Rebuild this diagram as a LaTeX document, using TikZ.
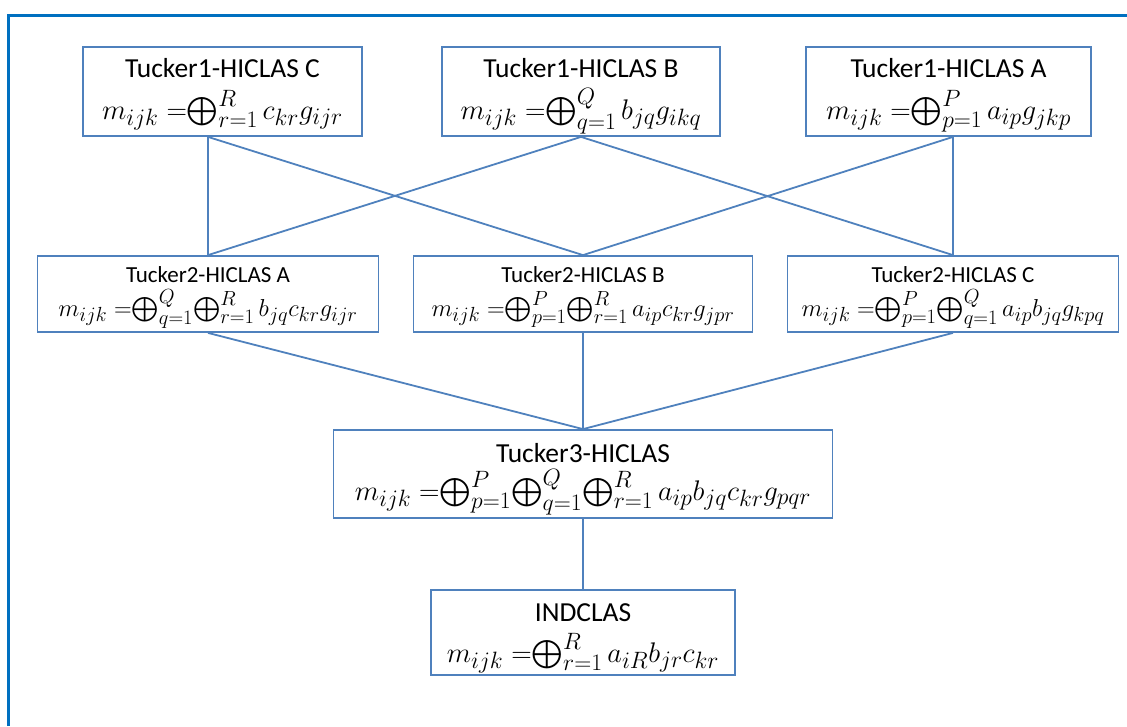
\documentclass[tikz,border=0pt]{standalone}
\usepackage[no-math]{fontspec}
\setmainfont{Carlito}
\usepackage{amsmath}
\usepackage{graphicx}
\definecolor{boxblue}{RGB}{79,129,189}
\definecolor{frameblue}{RGB}{0,112,192}
% circled-plus sum with side scripts and no extra spacing around it
\newcommand{\bop}{\mathord{\bigoplus}}
\newcommand{\eqs}{\;{=}}
% formula lines, set at 24.88pt and scaled to size
\newcommand{\bigmath}[1]{{\fontsize{24.88}{30}\selectfont\scalebox{1.14}{$#1$}}}
\newcommand{\smallmath}[1]{{\fontsize{24.88}{30}\selectfont\scalebox{0.985}{$#1$}}}
\begin{document}
\begin{tikzpicture}[x=1pt,y=-1pt,
  box/.style={draw=boxblue, line width=1.8pt, inner sep=0pt, fill=white},
  txt/.style={inner sep=0pt, anchor=base},
  bigtxt/.style={txt, font=\fontsize{27.5}{33}\selectfont},
  smalltxt/.style={txt, font=\fontsize{23}{28}\selectfont},
  link/.style={draw=boxblue, line width=1.8pt}]
\useasboundingbox (0,0) rectangle (1127,726);
% outer frame
\draw[frameblue, line width=3pt] (8,726) -- (8,15) -- (1127,15);

% Tucker1 level
\node[box, minimum width=279pt, minimum height=89pt] (T1C) at (222.5,91.5) {};
\node[bigtxt] (T1Ct) at ([yshift=-31pt]T1C.north) {Tucker1-HICLAS C};
\node[txt] (T1Cf) at ([yshift=-73pt]T1C.north) {\bigmath{m_{ijk}\eqs\bop_{r=1}^{R}\,c_{kr}g_{ijr}}};

\node[box, minimum width=278pt, minimum height=89pt] (T1B) at (581,91.5) {};
\node[bigtxt] (T1Bt) at ([yshift=-31pt]T1B.north) {Tucker1-HICLAS B};
\node[txt] (T1Bf) at ([yshift=-73pt]T1B.north) {\bigmath{m_{ijk}\eqs\bop_{q=1}^{Q}\,b_{jq}g_{ikq}}};

\node[box, minimum width=285pt, minimum height=89pt] (T1A) at (948.5,91.5) {};
\node[bigtxt] (T1At) at ([yshift=-31pt]T1A.north) {Tucker1-HICLAS A};
\node[txt] (T1Af) at ([yshift=-73pt]T1A.north) {\bigmath{m_{ijk}\eqs\bop_{p=1}^{P}\,a_{ip}g_{jkp}}};

% Tucker2 level
\node[box, minimum width=341pt, minimum height=76pt] (T2A) at (208,294) {};
\node[smalltxt] (T2At) at ([yshift=-27pt]T2A.north) {Tucker2-HICLAS A};
\node[txt] (T2Af) at ([yshift=-61pt]T2A.north) {\smallmath{m_{ijk}\eqs\bop_{q=1}^{Q}\bop_{r=1}^{R}\,b_{jq}c_{kr}g_{ijr}}};

\node[box, minimum width=339pt, minimum height=76pt] (T2B) at (583,294) {};
\node[smalltxt] (T2Bt) at ([yshift=-27pt]T2B.north) {Tucker2-HICLAS B};
\node[txt] (T2Bf) at ([yshift=-61pt]T2B.north) {\smallmath{m_{ijk}\eqs\bop_{p=1}^{P}\bop_{r=1}^{R}\,a_{ip}c_{kr}g_{jpr}}};

\node[box, minimum width=331pt, minimum height=76pt] (T2C) at (953,294) {};
\node[smalltxt] (T2Ct) at ([yshift=-27pt]T2C.north) {Tucker2-HICLAS C};
\node[txt] (T2Cf) at ([yshift=-61pt]T2C.north) {\smallmath{m_{ijk}\eqs\bop_{p=1}^{P}\bop_{q=1}^{Q}\,a_{ip}b_{jq}g_{kpq}}};

% Tucker3
\node[box, minimum width=499pt, minimum height=88pt] (T3) at (583,474) {};
\node[bigtxt] (T3t) at ([yshift=-33pt]T3.north) {Tucker3-HICLAS};
\node[txt] (T3f) at ([yshift=-71pt]T3.north) {\bigmath{m_{ijk}\eqs\bop_{p=1}^{P}\bop_{q=1}^{Q}\bop_{r=1}^{R}\,a_{ip}b_{jq}c_{kr}g_{pqr}}};

% INDCLAS
\node[box, minimum width=304pt, minimum height=85pt] (IND) at (583,632.5) {};
\node[bigtxt] (INDt) at ([yshift=-32pt]IND.north) {INDCLAS};
\node[txt] (INDf) at ([yshift=-73pt]IND.north) {\bigmath{m_{ijk}\eqs\bop_{r=1}^{R}\,a_{iR}b_{jr}c_{kr}}};

% connectors
\coordinate (c1) at (T1C.south -| T2A.north);
\coordinate (a1) at (T1A.south -| T2C.north);
\draw[link] (c1) -- (T2A.north);
\draw[link] (c1) -- (T2B.north);
\draw[link] (T1B.south) -- (T2A.north);
\draw[link] (T1B.south) -- (T2C.north);
\draw[link] (a1) -- (T2B.north);
\draw[link] (a1) -- (T2C.north);
\draw[link] (T2A.south) -- (T3.north);
\draw[link] (T2B.south) -- (T3.north);
\draw[link] (T2C.south) -- (T3.north);
\draw[link] (T3.south) -- (IND.north);
\end{tikzpicture}
\end{document}
